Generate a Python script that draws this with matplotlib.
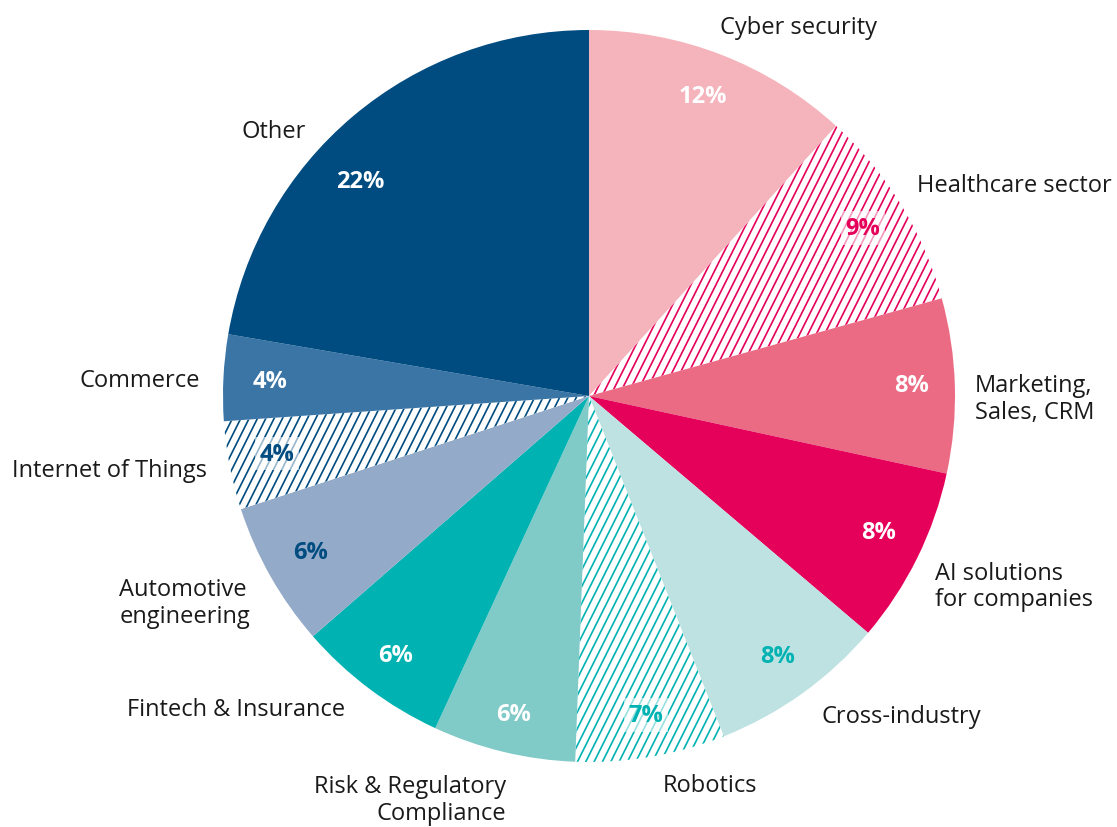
import matplotlib
matplotlib.use("Agg")
import matplotlib.pyplot as plt
import numpy as np
from matplotlib import hatch as mhatch
from matplotlib.path import Path

categories = ["Cyber security", "Healthcare sector", "Marketing,\nSales, CRM",
              "AI solutions\nfor companies", "Cross-industry", "Robotics",
              "Risk & Regulatory\nCompliance", "Fintech & Insurance",
              "Automotive\nengineering", "Internet of Things", "Commerce", "Other"]
values = [11.8, 8.9, 7.7, 7.8, 7.8, 6.6, 6.3, 6.7, 6.4, 3.9, 3.8, 22.3]
pct_labels = ["12%", "9%", "8%", "8%", "8%", "7%", "6%", "6%", "6%", "4%", "4%", "22%"]

face_colors = ["#F5B3BB", "white", "#EC6B84", "#E5005A", "#BDE2E1", "white",
               "#80CAC8", "#00B2B2", "#93AAC9", "white", "#3A75A6", "#004C80"]
hatch_colors = [None, "#E5005A", None, None, None, "#00B2B2",
                None, None, None, "#004C80", None, None]
text_colors = ["white", "#E5005A", "white", "white", "#00B2B2", "#00B2B2",
               "white", "white", "#004C80", "#004C80", "white", "white"]

# label placement style (distance from centre in radii, angular shift in degrees)
label_dist = [1.07, 1.066, 1.055, 1.079, 1.082, 1.082, 1.125, 1.084, 1.084, 1.062, 1.064, 1.06]
label_shift = [1.7, 1.3, -2.0, -2.5, 0.4, 1.0, 1.9, -1.0, 1.8, 0.0, 0.5, 6.8]
label_align = ["left", "left", "left", "left", "left", "left",
               "right", "right", "left", "right", "right", "right"]
pct_dist = [0.877, 0.878, 0.883, 0.875, 0.877, 0.885, 0.894, 0.884, 0.873, 0.867, 0.873, 0.858]
pct_shift = [0.4, 0.0, 0.3, 1.2, 0.3, 0.4, 0.1, 0.1, -0.3, -0.5, 0.2, 6.7]


class SteepHatch(mhatch.HatchPatternBase):
    """Diagonal hatch with slope 2 (steeper than the built-in 45 degrees)."""
    def __init__(self, hatch, density):
        self.m = int(hatch.count('/') * density)
        if self.m:
            self.ks = np.arange(-self.m - 1, 2 * self.m + 2)
        else:
            self.ks = np.array([], dtype=int)
        self.num_vertices = len(self.ks) * 2

    def set_vertices_and_codes(self, vertices, codes):
        y0, y1 = -0.6, 1.6
        for j, k in enumerate(self.ks):
            c = k / self.m
            vertices[2 * j] = ((c + y0) / 2.0, y0)
            vertices[2 * j + 1] = ((c + y1) / 2.0, y1)
            codes[2 * j] = Path.MOVETO
            codes[2 * j + 1] = Path.LINETO


mhatch._hatch_types = [SteepHatch if t is mhatch.NorthEastHatch else t
                       for t in mhatch._hatch_types]

plt.rcParams['font.family'] = ['Open Sans', 'DejaVu Sans']
plt.rcParams['hatch.linewidth'] = 1.2

fig = plt.figure(figsize=(11.17, 8.28), dpi=100)
W, H = 1117, 828
cx, cy, r = 589, 397, 366
ax = fig.add_axes([(cx - r) / W, (H - cy - r) / H, 2 * r / W, 2 * r / H])

wedges, texts = ax.pie(values, labels=categories, startangle=90, counterclock=False,
                       colors=face_colors, wedgeprops=dict(linewidth=0),
                       textprops=dict(fontsize=17, color="#1a1a1a", linespacing=1.15))
for i, w in enumerate(wedges):
    if hatch_colors[i]:
        w.set_hatch("/")
        w.set_edgecolor(hatch_colors[i])
        w.set_linewidth(0)

for i, w in enumerate(wedges):
    mid = (w.theta1 + w.theta2) / 2
    a = np.deg2rad(mid + label_shift[i])
    x, y = label_dist[i] * np.cos(a), label_dist[i] * np.sin(a)
    t = texts[i]
    t.set_position((x, y))
    t.set_ha("left" if x > 0 else "right")
    t.set_va("center")
    t.set_multialignment(label_align[i])

    a = np.deg2rad(mid + pct_shift[i])
    x, y = pct_dist[i] * np.cos(a), pct_dist[i] * np.sin(a)
    kw = {}
    if hatch_colors[i]:
        kw['bbox'] = dict(boxstyle="square,pad=0.2", fc="white", ec="none", alpha=0.6)
    ax.text(x, y, pct_labels[i], ha="center", va="center", fontsize=17,
            fontweight="bold", color=text_colors[i], **kw)

ax.set_xlim(-1, 1)
ax.set_ylim(-1, 1)
ax.set_aspect("equal")
ax.axis("off")
fig.savefig("out.png", dpi=100)
